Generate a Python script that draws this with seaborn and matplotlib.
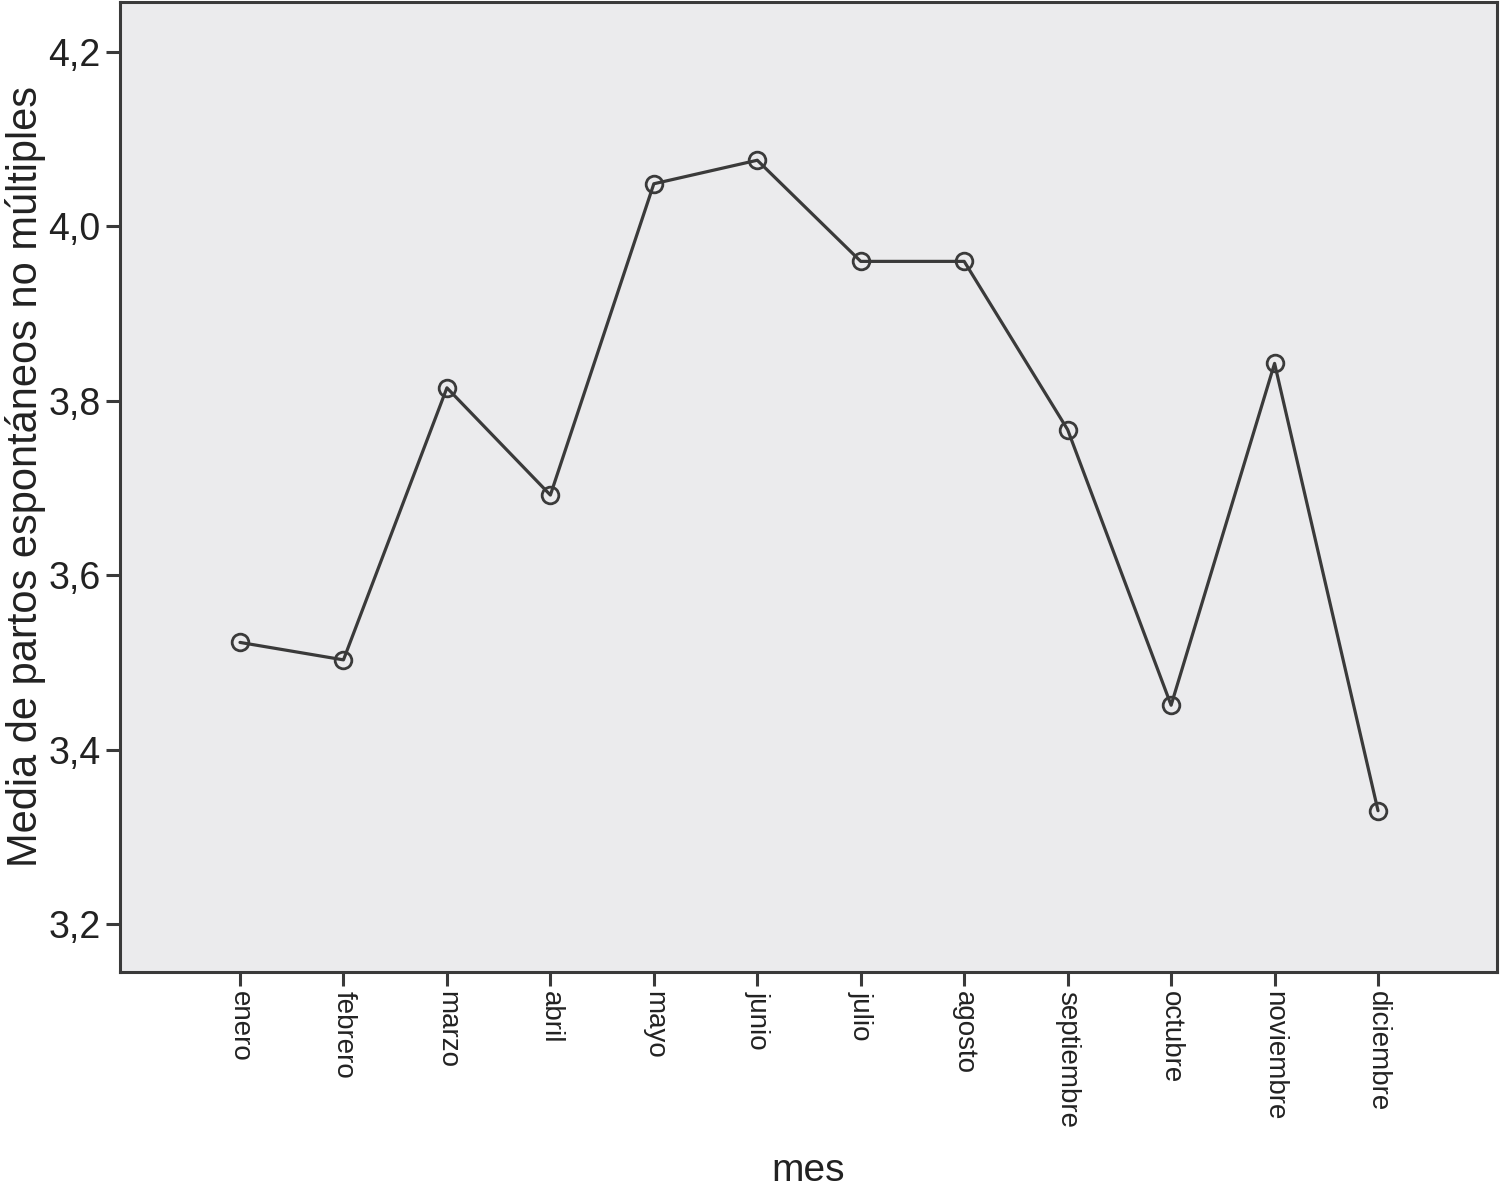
import numpy as np
import pandas as pd
import matplotlib
matplotlib.use("Agg")
import matplotlib.pyplot as plt
import seaborn as sns

# Monthly means
meses = ["enero", "febrero", "marzo", "abril", "mayo", "junio",
         "julio", "agosto", "septiembre", "octubre", "noviembre", "diciembre"]
media = [3.523, 3.503, 3.815, 3.692, 4.049, 4.076,
         3.960, 3.960, 3.767, 3.451, 3.843, 3.330]
y_ticks = [3.2, 3.4, 3.6, 3.8, 4.0, 4.2]

df = pd.DataFrame({"mes": meses, "media": media})
df["pos"] = np.arange(len(meses))

sns.set_theme(style="white")
plt.rcParams["font.family"] = ["Liberation Sans", "DejaVu Sans"]

fig = plt.figure(figsize=(15, 12.03), dpi=100)
ax = fig.add_axes([0.08, 0.192, 0.918, 0.806])
ax.set_facecolor("#ebebed")

line_col = "#3a3a3a"
sns.lineplot(data=df, x="pos", y="media", ax=ax, color=line_col, linewidth=2.3,
             marker="o", markersize=12, markerfacecolor="none",
             markeredgecolor=line_col, markeredgewidth=2)

ax.set_xlim(-1.16, 12.15)
ax.set_ylim(3.145, 4.257)
ax.set_xticks(df["pos"])
ax.set_xticklabels(meses, rotation=270, fontsize=20, color="#222222")
ax.set_yticks(y_ticks)
ax.set_yticklabels([f"{v:.1f}".replace(".", ",") for v in y_ticks],
                   fontsize=27, color="#222222")
ax.tick_params(axis="both", direction="out", length=10, width=2.2, color=line_col,
               left=True, bottom=True, pad=4)

for s in ax.spines.values():
    s.set_linewidth(2.2)
    s.set_color(line_col)

ax.set_xlabel("mes", fontsize=28, color="#222222", labelpad=18)
ax.set_ylabel("Media de partos espontáneos no múltiples", fontsize=30,
              color="#222222")
ax.yaxis.set_label_coords(-0.054, 0.511)

fig.savefig("out.png", dpi=100, facecolor="white")
